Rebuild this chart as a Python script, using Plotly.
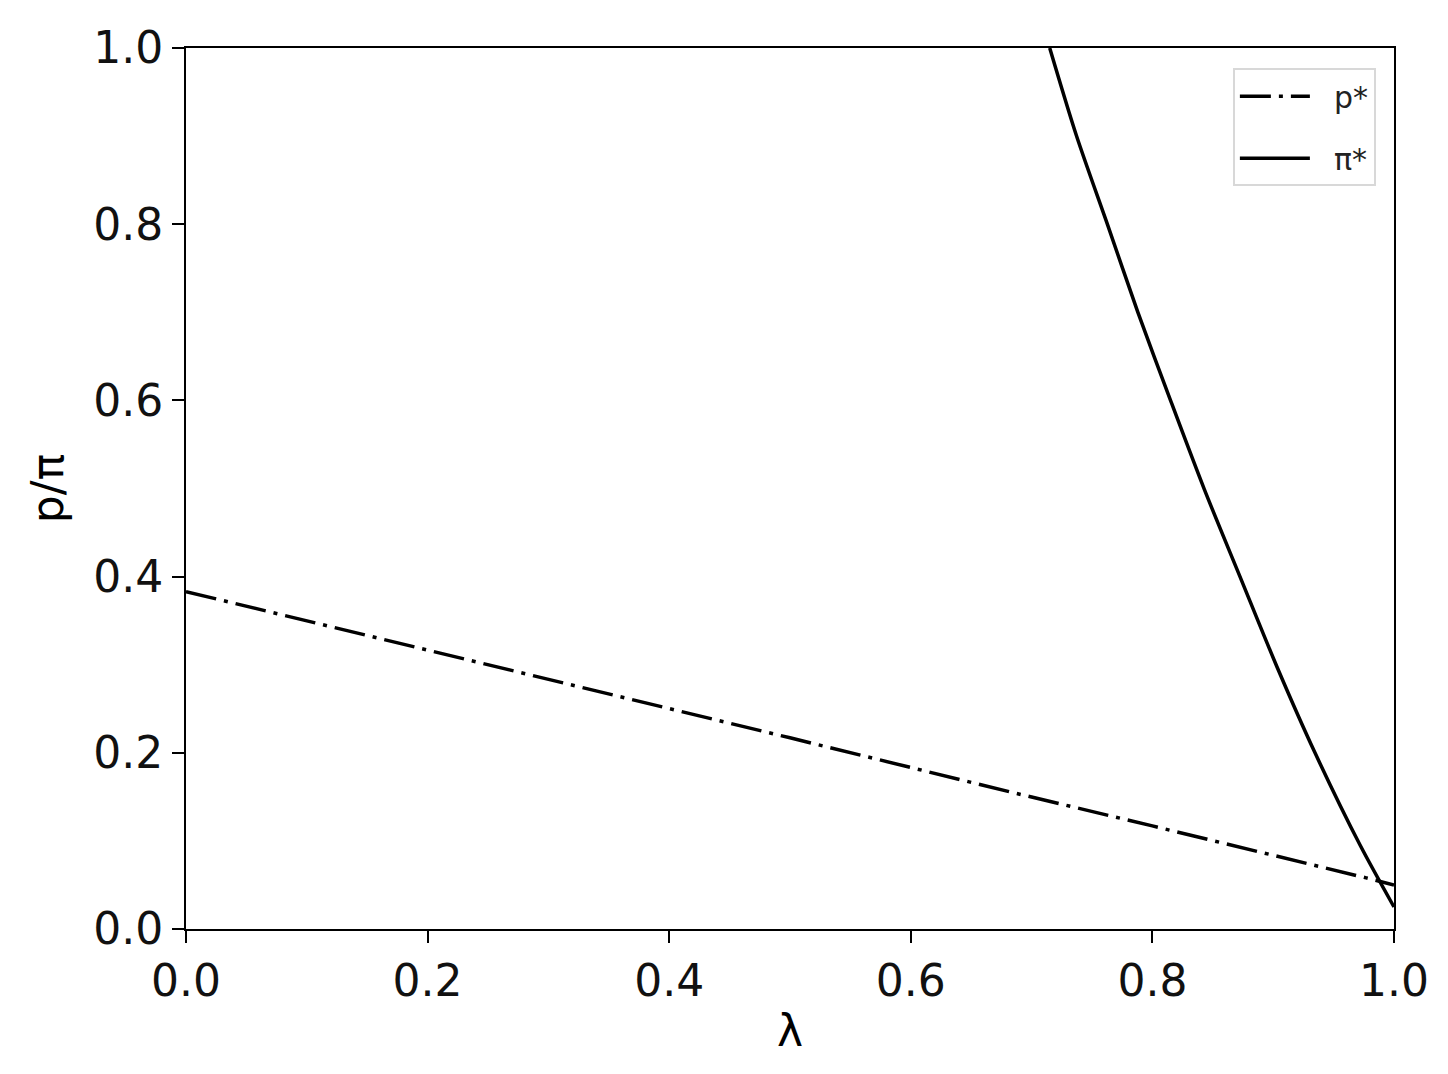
import plotly.graph_objects as go

# p* (dash-dot)
lam_p = [0.0, 0.2, 0.337, 0.5, 0.684, 0.8, 0.977, 1.0]
p_star = [0.383, 0.317, 0.271, 0.217, 0.155, 0.117, 0.058, 0.050]

# pi* (solid)
lam_pi = [0.715, 0.737, 0.763, 0.788, 0.815, 0.843, 0.8725, 0.903, 0.9346, 0.972, 1.0]
pi_star = [1.0, 0.901, 0.799, 0.70, 0.60, 0.499, 0.40, 0.298, 0.20, 0.095, 0.025]

x_ticks = [0.0, 0.2, 0.4, 0.6, 0.8, 1.0]
y_ticks = [0.0, 0.2, 0.4, 0.6, 0.8, 1.0]

font = "DejaVu Sans"
pad = "\u00a0\u00a0"  # gap between legend line and label

fig = go.Figure()
fig.add_trace(go.Scatter(x=lam_p, y=p_star, mode="lines", name=pad + "p*", legendgroup="a",
                         line=dict(color="black", width=3.5, dash="31px,8px,4px,8px")))
fig.add_trace(go.Scatter(x=lam_pi, y=pi_star, mode="lines", name=pad + "π*", legendgroup="b",
                         line=dict(color="black", width=3.5, shape="spline", smoothing=0.8)))

axis_style = dict(showline=True, linecolor="black", linewidth=2, mirror=True,
                  ticks="outside", ticklen=12, tickwidth=2, tickcolor="black",
                  showgrid=False, zeroline=False,
                  tickfont=dict(family=font, size=44, color="#111111"))

# page body has an 8px margin, so the figure is 8px smaller on each side
fig.update_layout(
    width=1440, height=1066,
    margin=dict(l=178, r=54, t=40, b=145),
    paper_bgcolor="white", plot_bgcolor="white",
    font=dict(family=font, color="black"),
    xaxis=dict(range=[0, 1], tickvals=x_ticks, ticktext=["%.1f" % v for v in x_ticks],
               title=dict(text="λ", font=dict(family=font, size=44), standoff=10),
               **axis_style),
    yaxis=dict(range=[0, 1], tickvals=y_ticks, ticktext=["%.1f" % v for v in y_ticks],
               title=dict(text="p/π", font=dict(family=font, size=44), standoff=16),
               **axis_style),
    legend=dict(x=0.985, y=0.977, xanchor="right", yanchor="top",
                bgcolor="white", bordercolor="#d8d8d8", borderwidth=2,
                font=dict(family=font, size=30, color="#222222"),
                itemwidth=70, traceorder="grouped", tracegroupgap=20),
    showlegend=True,
)

fig.write_html("out.html")
